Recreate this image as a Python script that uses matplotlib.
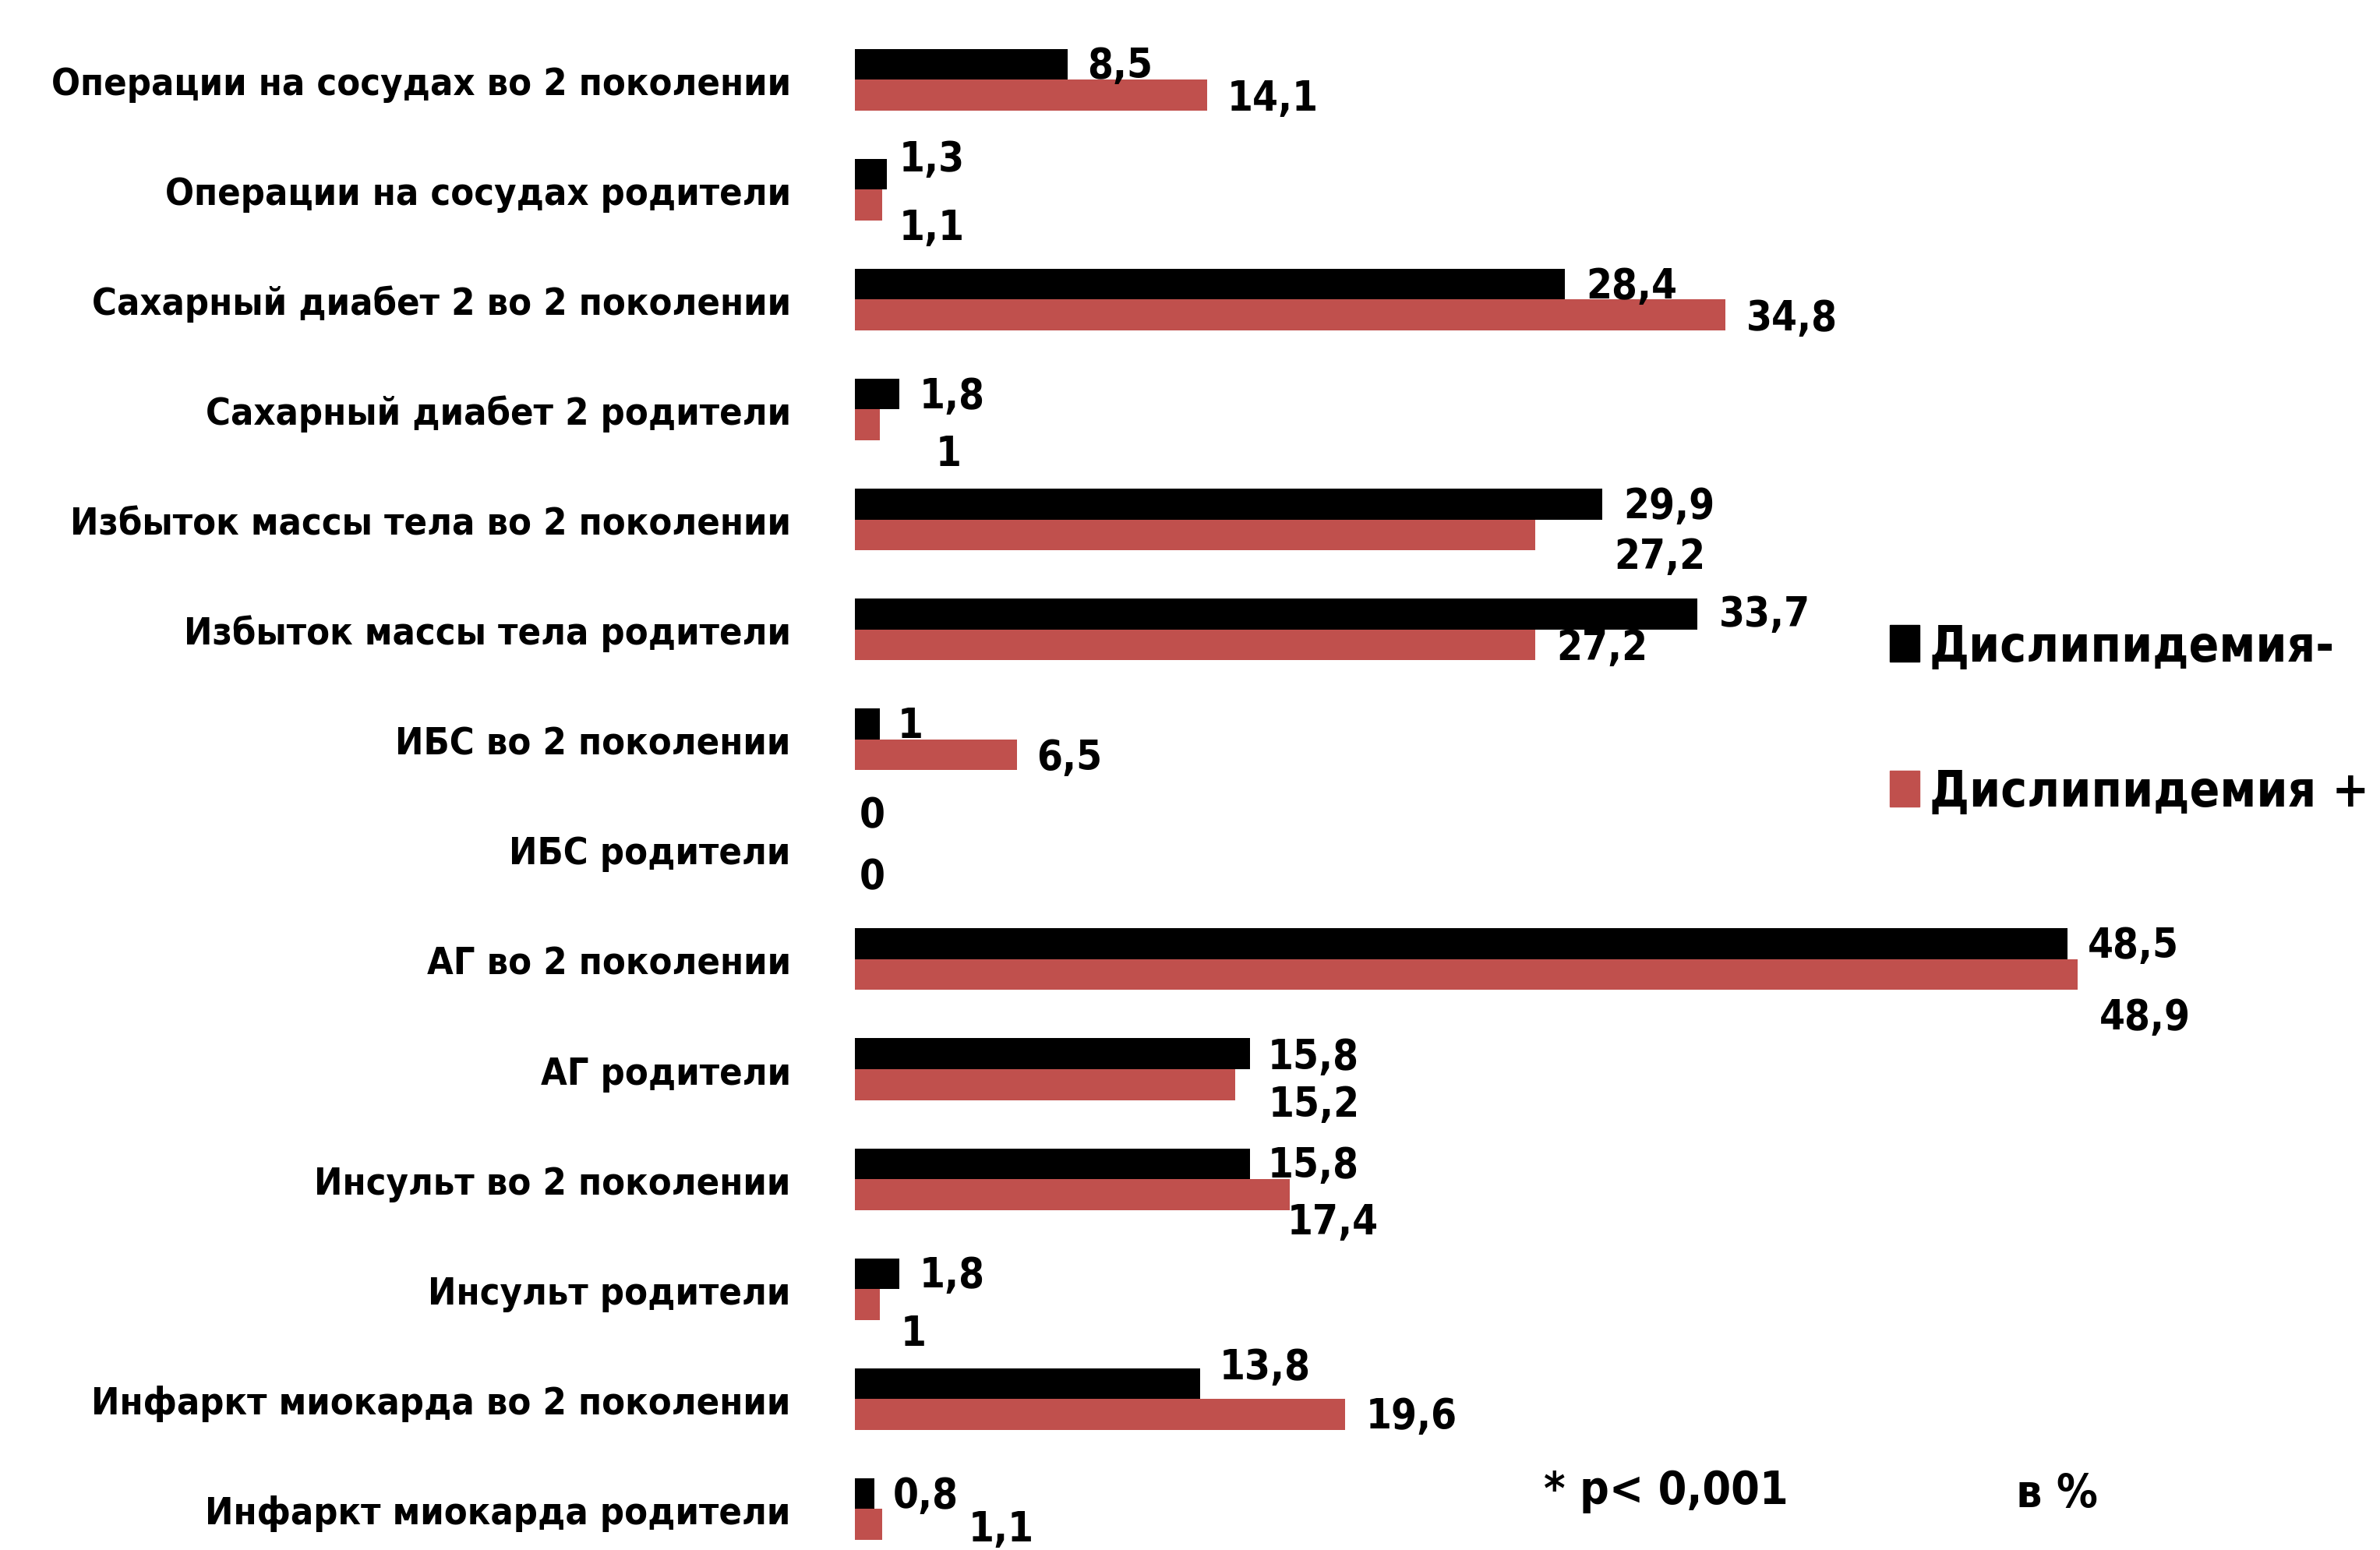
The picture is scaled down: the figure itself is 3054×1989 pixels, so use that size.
import matplotlib
matplotlib.use('Agg')
import matplotlib.pyplot as plt
from matplotlib import font_manager
from matplotlib.patches import Patch
import numpy as np

# data (in %)
categories = ['Операции на сосудах во 2 поколении', 'Операции на сосудах родители',
              'Сахарный диабет 2 во 2 поколении', 'Сахарный диабет 2 родители',
              'Избыток массы тела во 2 поколении', 'Избыток массы тела родители',
              'ИБС во 2 поколении', 'ИБС родители',
              'АГ во 2 поколении', 'АГ родители',
              'Инсульт во 2 поколении', 'Инсульт родители',
              'Инфаркт миокарда во 2 поколении', 'Инфаркт миокарда родители']
dys_minus = [8.5, 1.3, 28.4, 1.8, 29.9, 33.7, 1, 0, 48.5, 15.8, 15.8, 1.8, 13.8, 0.8]
dys_plus = [14.1, 1.1, 34.8, 1, 27.2, 27.2, 6.5, 0, 48.9, 15.2, 17.4, 1, 19.6, 1.1]
series_names = ['Дислипидемия-', 'Дислипидемия +']

# label offsets (reference px): right of bar end, below bar centre
minus_dx = [13, 8, 14, 13, 14, 14, 12, 3, 13, 12, 12, 13, 13, 12]
minus_dy = [1, -10, 1, 1, 1, 0, 1, -12, 1, 2, 1, 1, -11, 1]
plus_dx = [13, 11, 14, 37, 52, 14, 13, 3, 14, 22, -2, 14, 14, 57]
plus_dy = [2, 15, 2, 19, 14, 2, 2, 8, 28, 13, 18, 19, 1, 3]
PX = 1.4  # points per reference px

colors = ['#000000', '#C0504D']


#pick a narrow bold font if there is one
def pick_font():
    fl = font_manager.fontManager.ttflist
    narrow = [f for f in fl if ('Narrow' in f.name or 'Condensed' in f.name
                                or f.stretch in ('condensed', 'semi-condensed', 'extra-condensed'))]
    bold = [f for f in narrow if f.weight in ('bold', 700, 'heavy', 800, 'semibold', 600)]
    for group in (bold, narrow):
        if group:
            return group[0].name, group[0].stretch
    return 'Liberation Sans', 'normal'


fam, stretch = pick_font()
plt.rcParams['font.family'] = [fam, 'DejaVu Sans']
plt.rcParams['font.stretch'] = stretch
plt.rcParams['font.weight'] = 'bold'

fig = plt.figure(figsize=(30.54, 19.9), dpi=100)
renderer = fig.canvas.get_renderer()


def fit_size(s, target_px, max_size):
    t = fig.text(0, 0, s, fontsize=50, fontweight='bold')
    w = t.get_window_extent(renderer).width
    t.remove()
    return min(max_size, 50 * target_px / w)


tick_fs = fit_size(categories[0], 950, 38)
val_fs = fit_size('14,1', 117, 40)
leg_fs = fit_size(series_names[1], 565, 57)
note_fs = fit_size('* p< 0,001', 314, 56)

ax = fig.add_axes([0.3591, -0.009, 0.6306, 0.9926])
y = np.arange(len(categories))
h = 0.28
ax.barh(y - h / 2, dys_minus, height=h, color=colors[0])
ax.barh(y + h / 2, dys_plus, height=h, color=colors[1])
ax.set_xlim(0, 60)
ax.set_ylim(len(categories) - 0.5, -0.5)
ax.set_yticks(y)
ax.set_yticklabels(categories, fontsize=tick_fs, fontweight='bold')
ax.tick_params(axis='y', length=0, pad=59)
ax.set_xticks([])
for s in ax.spines.values():
    s.set_visible(False)


def fmt(v):
    return ('%g' % v).replace('.', ',')


for i in range(len(categories)):
    ax.annotate(fmt(dys_minus[i]), (dys_minus[i], y[i] - h / 2),
                xytext=(minus_dx[i] * PX, -minus_dy[i] * PX), textcoords='offset points',
                ha='left', va='center', fontsize=val_fs, fontweight='bold')
    ax.annotate(fmt(dys_plus[i]), (dys_plus[i], y[i] + h / 2),
                xytext=(plus_dx[i] * PX, -plus_dy[i] * PX), textcoords='offset points',
                ha='left', va='center', fontsize=val_fs, fontweight='bold')

handles = [Patch(color=colors[0]), Patch(color=colors[1])]
fig.legend(handles, series_names, loc='upper left', bbox_to_anchor=(0.794, 0.598),
           frameon=False, handlelength=0.6, handleheight=0.75,
           handletextpad=0.2, labelspacing=1.95, borderpad=0, borderaxespad=0,
           prop={'weight': 'bold', 'size': leg_fs})

fig.text(0.6486, 0.0382, '* p< 0,001', fontsize=note_fs, fontweight='bold', va='center')
fig.text(0.847, 0.0362, 'в %', fontsize=note_fs, fontweight='bold', va='center')

fig.savefig('out.png', dpi=100)
